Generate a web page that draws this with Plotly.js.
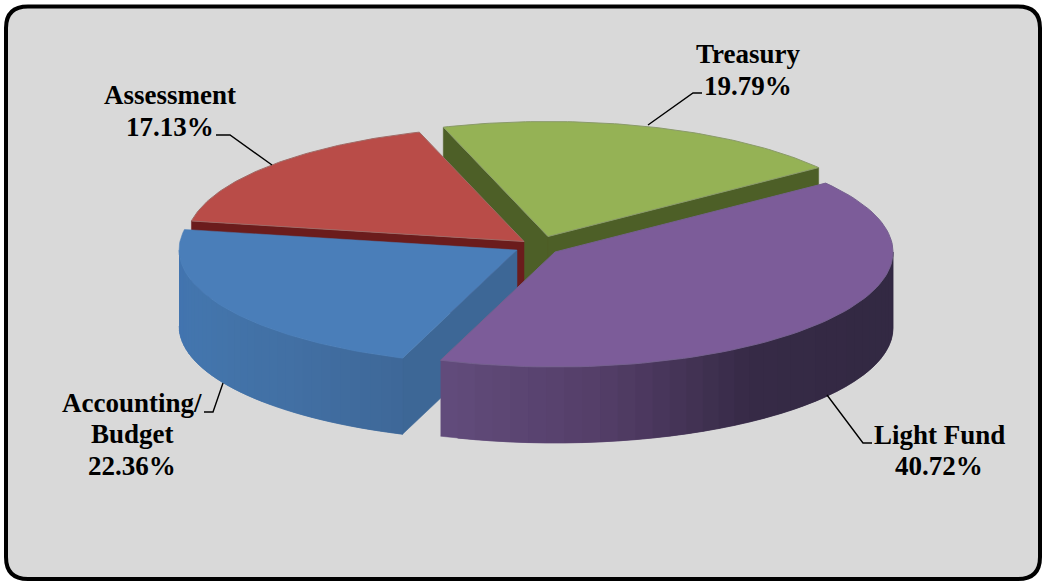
<!DOCTYPE html>
<html>
<head>
<meta charset="utf-8">
<script src="https://cdn.plot.ly/plotly-3.0.1.min.js"></script>
<style>html,body{margin:0;padding:0;background:#fff}#chart{width:1043px;height:581px}</style>
</head>
<body>
<div id="chart"></div>
<script>
// Budget shares, listed clockwise from the Light Fund slice.
const categories = [['Light Fund'], ['Accounting/', 'Budget'], ['Assessment'], ['Treasury']];
const shares = [40.72, 22.36, 17.13, 19.79];

// Slice styling, in the same order as the categories.
const topColors = ['#7c5c99', '#4a7eb9', '#b94c48', '#95b255'];
const cutColors = ['#4f3c66', '#3d6796', '#6b1c1c', '#4d5f27'];
// Outer wall shading: colour stops running left to right across the visible rim.
const purpleWall = [[98, 76, 124], [84, 62, 104], [54, 42, 70], [51, 41, 67], [51, 41, 67]];
const blueWall = [[66, 116, 176], [67, 117, 172], [66, 112, 164], [62, 104, 152]];

// Exploded slice apexes in page pixels.
const apexX = [555, 517, 524, 548];
const apexY = [252, 250, 241.5, 236.5];

// Projection of the flat pie onto the page.
const radiusX = 338, radiusY = 115, depth = 76, startAngle = 36.8;

// Callout text positions (one y per text line) and leader lines.
const labelX = [939, 132, 170, 748];
const labelY = [[434.5, 466], [402.5, 434, 465.5], [95, 126.5], [54, 85.5]];
const leaderX = [[827, 863, 872], [223, 213, 204], [272, 230, 216], [648, 693, 702]];
const leaderY = [[395, 443, 443], [383, 412, 412], [165, 135, 135], [125, 93, 93]];

const rad = d => d * Math.PI / 180;
const rimX = (i, a) => apexX[i] + radiusX * Math.cos(rad(a));
const rimY = (i, a) => apexY[i] - radiusY * Math.sin(rad(a));
const poly = (xs, ys, color, rim) => ({
  type: 'scatter', mode: 'lines', x: xs, y: ys, fill: 'toself', fillcolor: color,
  line: {color: rim || color, width: rim ? 1 : 0.5}, hoverinfo: 'skip', showlegend: false
});

function mixStops(stops, t) {
  const p = Math.min(stops.length - 1.0001, Math.max(0, t * (stops.length - 1)));
  const k = Math.floor(p), f = p - k;
  const c = stops[k].map((v, j) => Math.round(v + (stops[k + 1][j] - v) * f));
  return `rgb(${c[0]},${c[1]},${c[2]})`;
}

// Slice angular spans, running clockwise from the start angle.
const spans = [];
let cursor = startAngle;
shares.forEach(v => {
  const next = cursor - v * 3.6;
  spans.push([cursor, next]);
  cursor = next;
});

function radialFace(i, a) {
  const x1 = rimX(i, a), y1 = rimY(i, a);
  return poly([apexX[i], x1, x1, apexX[i], apexX[i]],
              [apexY[i], y1, y1 + depth, apexY[i] + depth, apexY[i]], cutColors[i]);
}

// Curved outer wall between two angles, built from overlapping shaded strips
// painted left to right so that no seams show between them.
function outerWall(i, left, right, stops) {
  const out = [], steps = 36, n = 6;
  for (let s = 0; s < steps; s++) {
    const a0 = left + (right - left) * s / steps;
    const a1 = s === steps - 1 ? right : left + (right - left) * (s + 2) / steps;
    const xs = [], ys = [];
    for (let k = 0; k <= n; k++) {
      const a = a0 + (a1 - a0) * k / n;
      xs.push(rimX(i, a)); ys.push(rimY(i, a));
    }
    for (let k = n; k >= 0; k--) {
      const a = a0 + (a1 - a0) * k / n;
      xs.push(rimX(i, a)); ys.push(rimY(i, a) + depth);
    }
    out.push(poly(xs, ys, mixStops(stops, (s + 0.5) / steps)));
  }
  return out;
}

function topFace(i, rim) {
  const xs = [apexX[i]], ys = [apexY[i]];
  const n = 80;
  for (let k = 0; k <= n; k++) {
    const a = spans[i][0] + (spans[i][1] - spans[i][0]) * k / n;
    xs.push(rimX(i, a)); ys.push(rimY(i, a));
  }
  xs.push(apexX[i]); ys.push(apexY[i]);
  return poly(xs, ys, topColors[i], rim);
}

// Painter's order: back slices first, front slices last.
const traces = [
  radialFace(3, spans[3][0]), radialFace(3, spans[3][1]), topFace(3, '#8a9a6a'),
  radialFace(2, spans[2][0]), topFace(2, '#a06a66'),
  ...outerWall(1, -180, spans[1][0], blueWall), radialFace(1, spans[1][0]), topFace(1),
  ...outerWall(0, spans[0][1], 0, purpleWall), topFace(0, '#75608f')
];

leaderX.forEach((xs, i) => traces.push({
  type: 'scatter', mode: 'lines', x: xs, y: leaderY[i],
  line: {color: '#000', width: 1.4}, hoverinfo: 'skip', showlegend: false
}));

// Each text line is its own annotation so the line spacing stays tight.
const annotations = [];
categories.forEach((lines, i) => {
  [...lines, shares[i].toFixed(2) + '%'].forEach((text, j) => annotations.push({
    x: labelX[i], y: labelY[i][j], xref: 'x', yref: 'y', showarrow: false, text,
    font: {family: '"Liberation Serif", serif', size: 27, color: '#000', weight: 700},
    xanchor: 'center', yanchor: 'middle', align: 'center'
  }));
});

const layout = {
  width: 1043, height: 581,
  margin: {l: 0, r: 0, t: 0, b: 0},
  paper_bgcolor: '#fff', plot_bgcolor: '#fff',
  showlegend: false,
  xaxis: {range: [0, 1043], visible: false, fixedrange: true},
  yaxis: {range: [581, 0], visible: false, fixedrange: true},
  annotations,
  shapes: [{
    type: 'path', layer: 'below', xref: 'x', yref: 'y',
    path: 'M 28 6.5 L 1018 6.5 Q 1040 6.5 1040 28 L 1040 557 Q 1040 579 1018 579 L 28 579 Q 6 579 6 557 L 6 28 Q 6 6.5 28 6.5 Z',
    fillcolor: '#d9d9d9', line: {color: '#000', width: 4}
  }]
};

Plotly.newPlot('chart', traces, layout, {displayModeBar: false, staticPlot: true});
</script>
</body>
</html>
